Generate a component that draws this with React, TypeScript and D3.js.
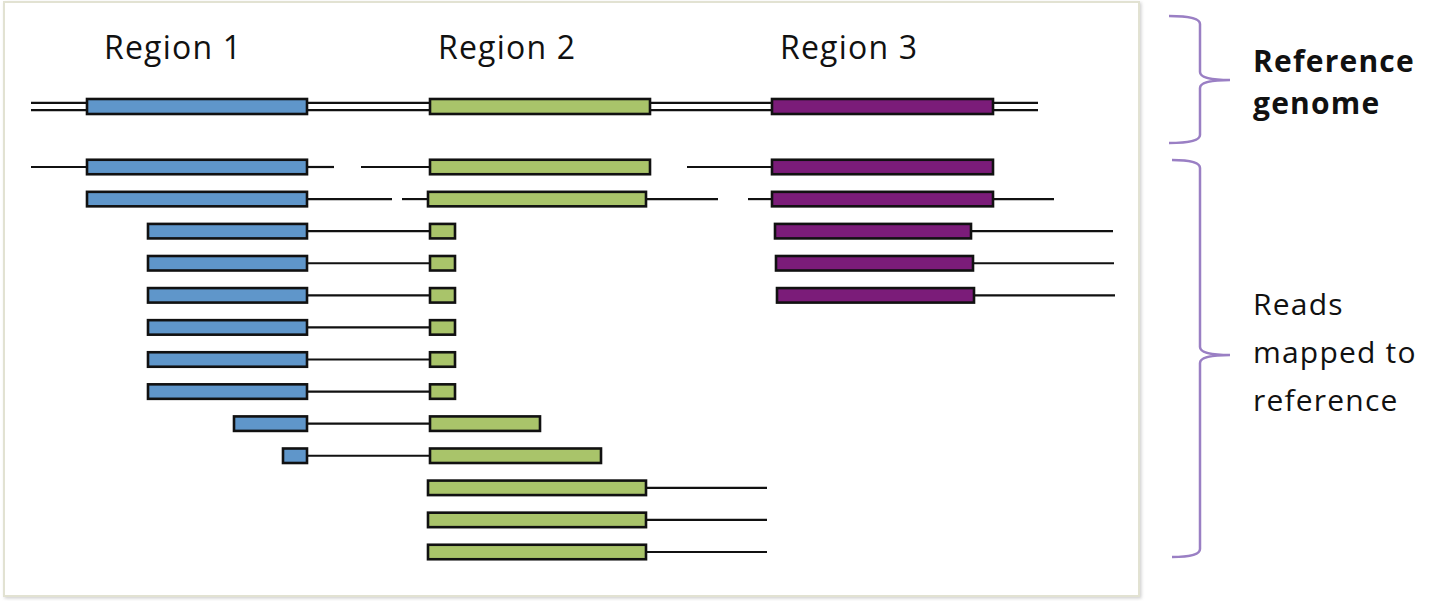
import React from "react";
import * as d3 from "d3";

// ---- data (genome coordinate units) ----
const regionNames = ["Region 1", "Region 2", "Region 3"];
const regionColors = ["#5f96ca", "#a9c46a", "#7b1c79"];
const regionLabelPos = [104, 438, 780];

// reference genome: backbone and exons
const referenceSpan: [number, number] = [31, 1038];
const referenceExons: [number, number, number][] = [
  [0, 87, 307],
  [1, 430, 650],
  [2, 772, 993],
];

// reads: boxes [region, start, end]
const readBoxes: [number, number, number][][] = [
  [[0, 87, 307], [1, 430, 650], [2, 772, 993]],
  [[0, 87, 307], [1, 428, 646], [2, 772, 993]],
  [[0, 148, 307], [1, 430, 455], [2, 775, 971]],
  [[0, 148, 307], [1, 430, 455], [2, 776, 973]],
  [[0, 148, 307], [1, 430, 455], [2, 777, 974]],
  [[0, 148, 307], [1, 430, 455]],
  [[0, 148, 307], [1, 430, 455]],
  [[0, 148, 307], [1, 430, 455]],
  [[0, 234, 307], [1, 430, 540]],
  [[0, 283, 307], [1, 430, 601]],
  [[1, 428, 646]],
  [[1, 428, 646]],
  [[1, 428, 646]],
];

// reads: connecting lines [start, end]
const readLines: [number, number][][] = [
  [[31, 87], [307, 334], [361, 430], [687, 772]],
  [[307, 392], [402, 430], [646, 718], [748, 772], [993, 1054]],
  [[307, 430], [971, 1113]],
  [[307, 430], [973, 1114]],
  [[307, 430], [974, 1115]],
  [[307, 430]],
  [[307, 430]],
  [[307, 430]],
  [[307, 430]],
  [[307, 430]],
  [[646, 767]],
  [[646, 767]],
  [[646, 767]],
];

const sideLabels = {
  reference: ["Reference", "genome"],
  reads: ["Reads", "mapped to", "reference"],
};

const W = 1430;
const H = 601;

export default function App() {
  const x = d3.scaleLinear().domain([0, 1430]).range([0, 1430]);
  const y = d3.scaleLinear().domain([0, readBoxes.length - 1]).range([167, 552]);
  const refY = 106.5;
  const boxH = 14.5;
  const font = "'Open Sans', Lato, sans-serif";

  const brace = (x0: number, xv: number, xt: number, y0: number, y1: number, ym: number) => {
    const p = d3.path();
    const r = 8;
    p.moveTo(x0, y0);
    p.quadraticCurveTo(xv, y0, xv, y0 + r);
    p.lineTo(xv, ym - r);
    p.quadraticCurveTo(xv, ym, xt, ym);
    p.moveTo(xt, ym);
    p.quadraticCurveTo(xv, ym, xv, ym + r);
    p.lineTo(xv, y1 - r);
    p.quadraticCurveTo(xv, y1, x0, y1);
    return p.toString();
  };

  return (
    <svg
      width={W}
      height={H}
      style={{ position: "fixed", left: 0, top: 0, background: "#fff" }}
    >
      <defs>
        <filter id="sh" x="-5%" y="-5%" width="110%" height="110%">
          <feDropShadow dx="1.5" dy="1.5" stdDeviation="1.5" floodColor="#999" floodOpacity="0.45" />
        </filter>
      </defs>
      <rect x={4} y={2} width={1135} height={594} fill="#fff" stroke="#e2e2d2" strokeWidth={2} filter="url(#sh)" />

      {/* region labels */}
      {regionNames.map((n, i) => (
        <text key={n} x={x(regionLabelPos[i])} y={59} fontFamily={font} fontSize={32} letterSpacing={1.2} fill="#111">
          {n}
        </text>
      ))}

      {/* reference genome double line */}
      {[-3.6, 3.6].map((o) => (
        <line key={o} x1={x(referenceSpan[0])} x2={x(referenceSpan[1])} y1={refY + o} y2={refY + o} stroke="#111" strokeWidth={2.4} />
      ))}
      {referenceExons.map(([r, s, e], i) => (
        <rect key={i} x={x(s)} y={refY - 7.5} width={x(e) - x(s)} height={15} fill={regionColors[r]} stroke="#111" strokeWidth={2.6} />
      ))}

      {/* reads */}
      {readLines.map((row, ri) =>
        row.map(([s, e], j) => (
          <line key={`l${ri}-${j}`} x1={x(s)} x2={x(e)} y1={y(ri)} y2={y(ri)} stroke="#111" strokeWidth={2.2} />
        ))
      )}
      {readBoxes.map((row, ri) =>
        row.map(([r, s, e], j) => (
          <rect key={`b${ri}-${j}`} x={x(s)} y={y(ri) - boxH / 2} width={x(e) - x(s)} height={boxH} fill={regionColors[r]} stroke="#111" strokeWidth={2.6} />
        ))
      )}

      {/* braces */}
      <path d={brace(1169, 1200, 1230, 16, 143, 80)} fill="none" stroke="#9a7fc4" strokeWidth={2.5} />
      <path d={brace(1172, 1200, 1230, 160, 557, 355)} fill="none" stroke="#9a7fc4" strokeWidth={2.5} />

      {/* side labels */}
      {sideLabels.reference.map((t, i) => (
        <text key={t} x={1253} y={72 + i * 42} fontFamily={font} fontWeight={700} fontSize={30} letterSpacing={1.2} fill="#111">
          {t}
        </text>
      ))}
      {sideLabels.reads.map((t, i) => (
        <text key={t} x={1253} y={315 + i * 48} fontFamily={font} fontSize={30} letterSpacing={1.2} fill="#111">
          {t}
        </text>
      ))}
    </svg>
  );
}
